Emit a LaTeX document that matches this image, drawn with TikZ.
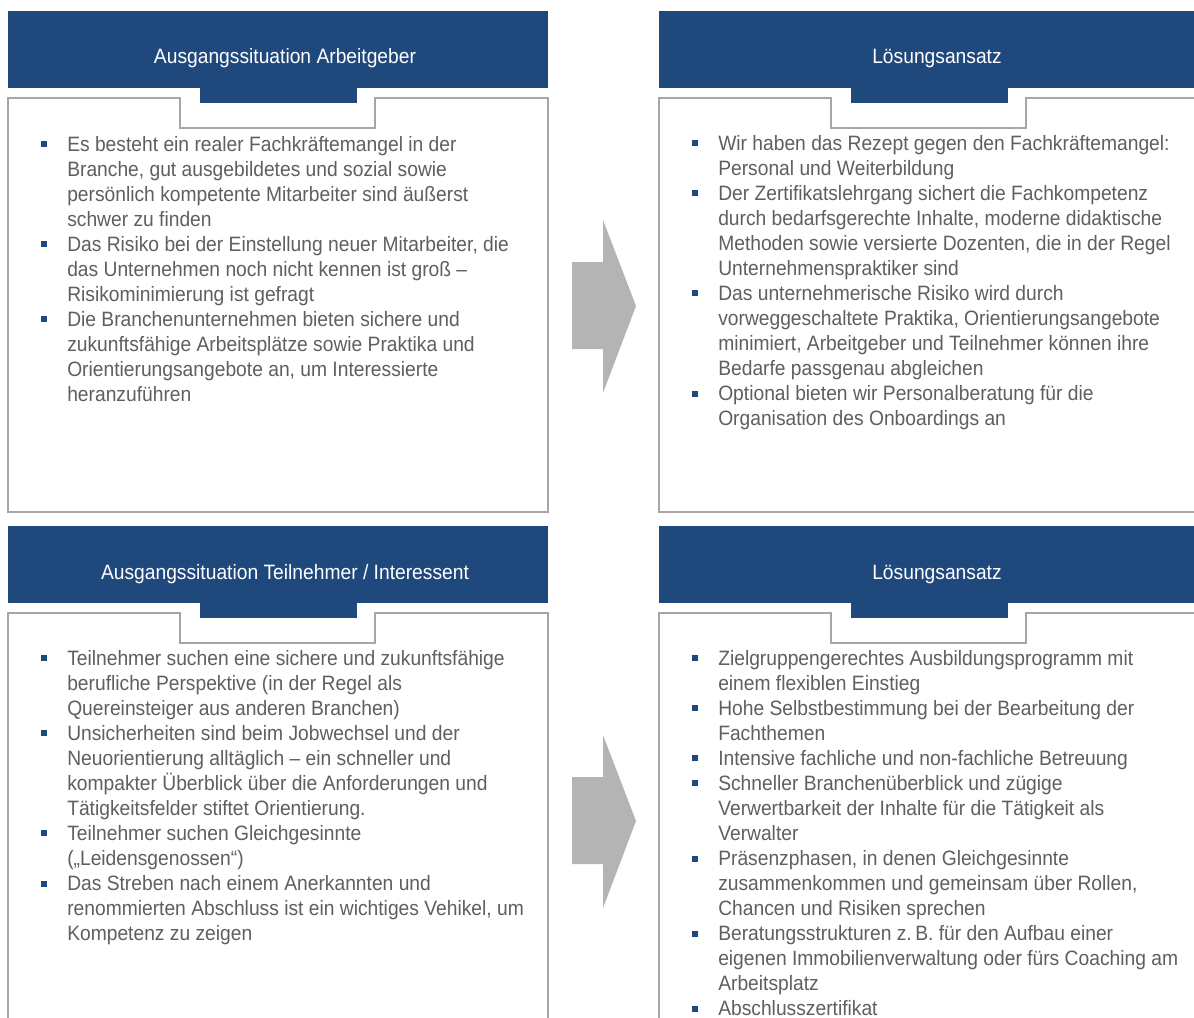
\documentclass[tikz,border=0pt]{standalone}
\usepackage{fontspec}
\setmainfont{Liberation Sans}
\newfontfamily\panelfont[FakeStretch=0.925]{Liberation Sans}
\definecolor{hdrblue}{RGB}{31,73,125}
\definecolor{txtgray}{RGB}{95,95,95}
\definecolor{boxgray}{RGB}{166,166,166}
\definecolor{arrgray}{RGB}{180,180,180}
\newcommand{\bitem}{\par\hangindent=19.5pt\hangafter=1\noindent\makebox[19.5pt][l]{\textcolor{hdrblue}{\rule[3pt]{4.5pt}{4.5pt}}}}
\newcommand{\blist}[1]{\begin{minipage}[t]{420pt}\parindent=0pt\parskip=0pt #1\end{minipage}}
\tikzset{
  hdrfill/.style={fill=hdrblue},
  bodyline/.style={draw=boxgray,line width=1.1pt},
  arrowfill/.style={fill=arrgray},
  hdrtext/.style={anchor=base,inner sep=0pt,text=white,font=\panelfont\fontsize{15.6pt}{18.8pt}\selectfont},
  listtext/.style={anchor=base west,inner sep=0pt,text=txtgray,font=\panelfont\fontsize{15.6pt}{18.8pt}\selectfont}
}
\begin{document}
\begin{tikzpicture}[x=0.75pt,y=-0.75pt]
\useasboundingbox (0,0) rectangle (1194,1017);
\clip (0,0) rectangle (1194,1017);
\fill[white] (0,0) rectangle (1194,1017);
% panel frames
\foreach \dx/\dy in {0/0,651/0,0/515,651/515}{
  \begin{scope}[shift={(\dx,\dy)}]
    \fill[hdrfill] (8,11) rectangle (548,88);
    \fill[hdrfill] (200,87) rectangle (357,103);
    \draw[bodyline] (8,98) -- (180,98) -- (180,128) -- (375,128) -- (375,98) -- (548,98) -- (548,512) -- (8,512) -- cycle;
  \end{scope}
}
% arrows
\foreach \dy in {0,515}{
  \begin{scope}[shift={(0,\dy)}]
    \fill[arrowfill] (572,262) -- (603,262) -- (603,220) -- (636,306) -- (603,393) -- (603,349) -- (572,349) -- cycle;
  \end{scope}
}
% header texts
\node[hdrtext] (h1) at (285,63) {Ausgangssituation Arbeitgeber};
\node[hdrtext] (h2) at (937,63) {Lösungsansatz};
\node[hdrtext] (h3) at (285,579) {Ausgangssituation Teilnehmer / Interessent};
\node[hdrtext] (h4) at (937,579) {Lösungsansatz};
% lists
\node[listtext] (l1) at (41,151) {\blist{%
\bitem Es besteht ein realer Fachkräftemangel in der\\Branche, gut ausgebildetes und sozial sowie\\persönlich kompetente Mitarbeiter sind äußerst\\schwer zu finden
\bitem Das Risiko bei der Einstellung neuer Mitarbeiter, die\\das Unternehmen noch nicht kennen ist groß –\\Risikominimierung ist gefragt
\bitem Die Branchenunternehmen bieten sichere und\\zukunftsfähige Arbeitsplätze sowie Praktika und\\Orientierungsangebote an, um Interessierte\\heranzuführen}};
\node[listtext] (l2) at (692,150) {\blist{%
\bitem Wir haben das Rezept gegen den Fachkräftemangel:\\Personal und Weiterbildung
\bitem Der Zertifikatslehrgang sichert die Fachkompetenz\\durch bedarfsgerechte Inhalte, moderne didaktische\\Methoden sowie versierte Dozenten, die in der Regel\\Unternehmenspraktiker sind
\bitem Das unternehmerische Risiko wird durch\\vorweggeschaltete Praktika, Orientierungsangebote\\minimiert, Arbeitgeber und Teilnehmer können ihre\\Bedarfe passgenau abgleichen
\bitem Optional bieten wir Personalberatung für die\\Organisation des Onboardings an}};
\node[listtext] (l3) at (41,665) {\blist{%
\bitem Teilnehmer suchen eine sichere und zukunftsfähige\\berufliche Perspektive (in der Regel als\\Quereinsteiger aus anderen Branchen)
\bitem Unsicherheiten sind beim Jobwechsel und der\\Neuorientierung alltäglich – ein schneller und\\kompakter Überblick über die Anforderungen und\\Tätigkeitsfelder stiftet Orientierung.
\bitem Teilnehmer suchen Gleichgesinnte\\(„Leidensgenossen“)
\bitem Das Streben nach einem Anerkannten und\\renommierten Abschluss ist ein wichtiges Vehikel, um\\Kompetenz zu zeigen}};
\node[listtext] (l4) at (692,665) {\blist{%
\bitem Zielgruppengerechtes Ausbildungsprogramm mit\\einem flexiblen Einstieg
\bitem Hohe Selbstbestimmung bei der Bearbeitung der\\Fachthemen
\bitem Intensive fachliche und non-fachliche Betreuung
\bitem Schneller Branchenüberblick und zügige\\Verwertbarkeit der Inhalte für die Tätigkeit als\\Verwalter
\bitem Präsenzphasen, in denen Gleichgesinnte\\zusammenkommen und gemeinsam über Rollen,\\Chancen und Risiken sprechen
\bitem Beratungsstrukturen z.\,B. für den Aufbau einer\\eigenen Immobilienverwaltung oder fürs Coaching am\\Arbeitsplatz
\bitem Abschlusszertifikat}};
\end{tikzpicture}
\end{document}
